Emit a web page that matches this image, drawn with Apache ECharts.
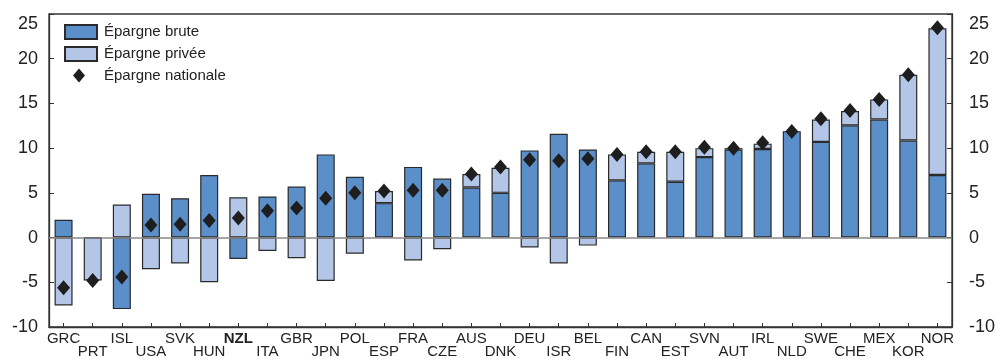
<!DOCTYPE html>
<html>
<head>
<meta charset="utf-8">
<script src="https://cdn.jsdelivr.net/npm/echarts@6/dist/echarts.min.js"></script>
<style>html,body{margin:0;padding:0;background:#fff;}#c{width:998px;height:359px;}</style>
</head>
<body>
<div id="c"></div>
<script>
var categories = ['GRC','PRT','ISL','USA','SVK','HUN','NZL','ITA','GBR','JPN','POL','ESP','FRA','CZE','AUS','DNK','DEU','ISR','BEL','FIN','CAN','EST','SVN','AUT','IRL','NLD','SWE','CHE','MEX','KOR','NOR'];
var brute = [2.0, 0, -8.0, 4.9, 4.4, 7.0, -2.4, 4.6, 5.7, 9.3, 6.8, 3.85, 7.9, 6.6, 5.6, 5.0, 9.75, 11.6, 9.85, 6.4, 8.3, 6.25, 9.0, 9.85, 9.9, 11.9, 10.7, 12.55, 13.2, 10.85, 7.0];
var privee = [-7.6, -4.8, 3.7, -3.55, -2.9, -5.0, 4.5, -1.5, -2.3, -4.85, -1.8, 1.35, -2.55, -1.3, 1.5, 2.8, -1.1, -2.9, -0.9, 2.9, 1.3, 3.35, 1.0, 0.15, 0.6, -0.1, 2.5, 1.6, 2.25, 7.35, 16.4];
var nationale = [-5.6, -4.8, -4.4, 1.4, 1.5, 1.9, 2.2, 3.0, 3.3, 4.4, 5.0, 5.2, 5.3, 5.3, 7.1, 7.9, 8.7, 8.6, 8.8, 9.3, 9.6, 9.6, 10.1, 10.0, 10.6, 11.85, 13.3, 14.2, 15.45, 18.2, 23.45];
var yTicks = {min: -10, max: 25, interval: 5};
var highlight = 'NZL';

var chart = echarts.init(document.getElementById('c'));
var font = 'Liberation Sans, Arial, sans-serif';
function yFmt(v) { return v === yTicks.max ? '{t|' + v + '}' : String(v); }
var yRich = { t: { fontSize: 18, fontFamily: font, color: '#222', padding: [20, 0, 0, 0] } };
function yAxis(pos, margin) {
  return {
    type: 'value', position: pos, min: yTicks.min, max: yTicks.max, interval: yTicks.interval,
    axisLine: { show: true, lineStyle: { color: '#333', width: 1.3 } },
    axisTick: { show: true, inside: true, length: 5, lineStyle: { color: '#333' } },
    splitLine: { show: false },
    axisLabel: { fontSize: 18, fontFamily: font, color: '#222', margin: margin, formatter: yFmt, rich: yRich,
                 align: pos === 'left' ? 'right' : 'left' }
  };
}
var diamondIcon = 'path://M0,0M32,14M14,0L20,7L14,14L8,7Z';
var option = {
  animation: false,
  grid: { left: 49, right: 41, top: 14, bottom: 30, show: true, borderColor: '#333', borderWidth: 1.3 },
  legend: {
    orient: 'vertical', left: 59, top: 19, itemWidth: 32, itemHeight: 14, itemGap: 6,
    textStyle: { fontSize: 15, fontFamily: font, color: '#222', padding: [0, 0, 0, 2] },
    data: [
      { name: 'Épargne brute', icon: 'rect' },
      { name: 'Épargne privée', icon: 'rect' },
      { name: 'Épargne nationale', icon: diamondIcon }
    ]
  },
  xAxis: {
    type: 'category', data: categories,
    axisLine: { onZero: false, lineStyle: { color: '#333', width: 1.3 } },
    axisTick: { show: true, inside: true, alignWithLabel: true, length: 4, lineStyle: { color: '#333' } },
    axisLabel: {
      interval: 0, margin: 5, fontSize: 15, fontFamily: font, color: '#222', lineHeight: 13,
      formatter: function (v, i) {
        var s = v === highlight ? '{b|' + v + '}' : v;
        return i % 2 ? '\n' + s : s;
      },
      rich: { b: { fontWeight: 'bold', fontSize: 15, fontFamily: font, color: '#222', lineHeight: 13 } }
    }
  },
  yAxis: [yAxis('left', 11), yAxis('right', 17)],
  series: [
    {
      name: 'zero', type: 'line', data: [], z: 1, silent: true,
      markLine: { silent: true, symbol: 'none', label: { show: false },
        lineStyle: { color: '#888', width: 1.5, type: 'solid' }, data: [{ yAxis: 0 }] }
    },
    {
      name: 'Épargne brute', type: 'bar', stack: 's', data: brute, barWidth: 18, z: 2,
      itemStyle: { color: '#5b8fca', borderColor: '#2a2a2a', borderWidth: 1.2 }
    },
    {
      name: 'Épargne privée', type: 'bar', stack: 's', data: privee, barWidth: 18, z: 2,
      itemStyle: { color: '#b3c6e8', borderColor: '#2a2a2a', borderWidth: 1.2 }
    },
    {
      name: 'Épargne nationale', type: 'scatter', data: nationale, symbol: 'diamond', symbolSize: [13, 15], z: 5,
      itemStyle: { color: '#1e1e1e', opacity: 1 }
    }
  ]
};
chart.setOption(option);
</script>
</body>
</html>
